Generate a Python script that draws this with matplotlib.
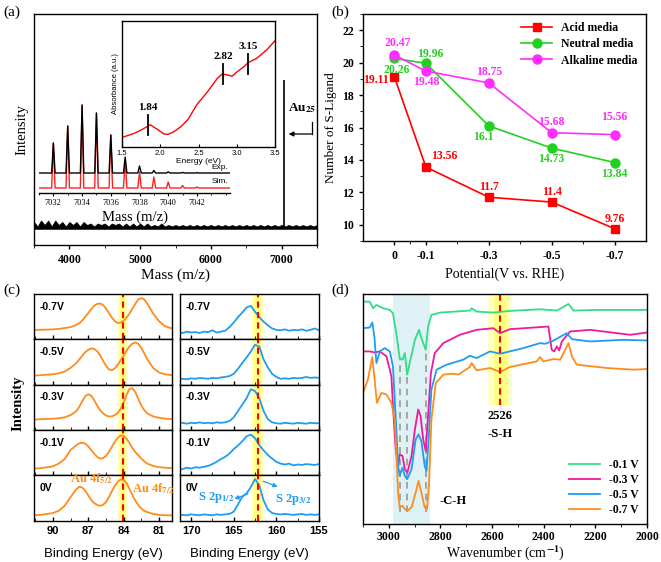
import numpy as np
import matplotlib.pyplot as plt
from matplotlib.ticker import MultipleLocator, FixedLocator

SERIF = "Liberation Serif"
SANS = "Liberation Sans"
plt.rcParams["font.family"] = SERIF
plt.rcParams["font.weight"] = "bold"
plt.rcParams["axes.linewidth"] = 1.0
plt.rcParams["mathtext.fontset"] = "stix"

# ---------------- (a) mass spectrum ----------------
ms_mass = [3500 + 50 * i for i in range(81)]
ms_noise = [4, 1, 5, 2, 5, 1, 5, 2, 4, 1, 4,
            2, 4, 1, 4, 2, 3, 1, 3, 2, 3, 1, 3, 2, 3, 1, 3, 1, 3, 1, 3,
            1, 3, 1, 2, 1, 3, 1, 2, 1, 2, 1, 2, 1, 2, 1, 2, 1, 2, 1, 2,
            1, 2, 1, 2, 1, 2, 1, 2, 1, 2, 1, 2, 1, 2, 1, 2, 1, 2, 1, 2,
            1, 2, 1, 2, 1, 2, 1, 2, 1, 2]
au25_mass = 7030
au25_height = 100

iso_mass = [7032, 7033, 7034, 7035, 7036, 7037, 7038, 7039, 7040, 7041, 7042]
iso_exp = [30, 47, 68, 60, 38, 16, 7, 2.5, 1.2, 0.6, 0.3]
iso_sim = [45, 62, 83, 75, 53, 28, 16, 11, 6, 2.5, 1]

uv_energy = [1.5, 1.66, 1.75, 1.87, 1.94, 2.05, 2.10, 2.18, 2.27, 2.36, 2.48,
             2.61, 2.74, 2.81, 2.87, 2.94, 3.0, 3.09, 3.15, 3.26, 3.39, 3.5]
uv_abs = [0.076, 0.108, 0.135, 0.176, 0.149, 0.103, 0.100, 0.122, 0.162, 0.216,
          0.338, 0.432, 0.540, 0.580, 0.573, 0.562, 0.595, 0.635, 0.670, 0.703,
          0.770, 0.843]
uv_marks = [1.84, 2.82, 3.15]
uv_mark_level = [0.175, 0.58, 0.66]

# ---------------- (b) S-ligand count ----------------
potential = [0, -0.1, -0.3, -0.5, -0.7]
potential_labels = ["0", "-0.1", "-0.3", "-0.5", "-0.7"]
acid = [19.11, 13.56, 11.7, 11.4, 9.76]
neutral = [20.26, 19.96, 16.1, 14.73, 13.84]
alkaline = [20.47, 19.48, 18.75, 15.68, 15.56]

# ---------------- (c) XPS ----------------
xps_labels = ["-0.7V", "-0.5V", "-0.3V", "-0.1V", "0V"]
au_be = [91.6, 91.0, 90.0, 89.5, 89.0, 88.5, 88.0, 87.75, 87.5, 87.25, 87.0,
         86.75, 86.5, 86.25, 86.0, 85.75, 85.5, 85.25, 85.0, 84.75, 84.5,
         84.25, 84.0, 83.75, 83.5, 83.25, 83.0, 82.75, 82.5, 82.25, 82.0,
         81.5, 81.0, 80.5, 79.9]
au_m07 = [0.21, 0.21, 0.22, 0.23, 0.25, 0.27, 0.32, 0.36, 0.42, 0.50, 0.58,
          0.67, 0.74, 0.78, 0.79, 0.76, 0.68, 0.58, 0.48, 0.40, 0.36,
          0.37, 0.41, 0.48, 0.57, 0.68, 0.79, 0.88, 0.91, 0.88, 0.79,
          0.57, 0.40, 0.29, 0.24]
au_m05 = [0.20, 0.21, 0.23, 0.25, 0.29, 0.37, 0.48, 0.56, 0.64, 0.72, 0.77,
          0.80, 0.79, 0.74, 0.65, 0.53, 0.42, 0.34, 0.32, 0.36, 0.44,
          0.54, 0.64, 0.75, 0.85, 0.91, 0.93, 0.90, 0.81, 0.69, 0.56,
          0.37, 0.27, 0.23, 0.21]
au_m03 = [0.23, 0.24, 0.25, 0.26, 0.28, 0.33, 0.42, 0.52, 0.64, 0.75, 0.79,
          0.76, 0.66, 0.54, 0.44, 0.37, 0.32, 0.30, 0.30, 0.33, 0.38,
          0.47, 0.60, 0.78, 0.91, 0.92, 0.83, 0.68, 0.54, 0.44, 0.37,
          0.30, 0.27, 0.25, 0.24]
au_m01 = [0.15, 0.16, 0.20, 0.26, 0.36, 0.56, 0.67, 0.71, 0.72, 0.70, 0.64,
          0.56, 0.48, 0.41, 0.37, 0.38, 0.43, 0.52, 0.63, 0.74, 0.83,
          0.88, 0.87, 0.81, 0.71, 0.60, 0.51, 0.44, 0.37, 0.31, 0.26,
          0.21, 0.18, 0.17, 0.16]
au_0 = [0.12, 0.13, 0.17, 0.22, 0.33, 0.52, 0.70, 0.75, 0.73, 0.66, 0.56,
        0.46, 0.39, 0.35, 0.33, 0.35, 0.41, 0.52, 0.65, 0.77, 0.86,
        0.91, 0.90, 0.83, 0.70, 0.56, 0.44, 0.34, 0.27, 0.22, 0.19,
        0.15, 0.13, 0.12, 0.12]

s_be = [171.5, 171.0, 170.5, 170.0, 169.5, 169.0, 168.5, 168.0, 167.5, 167.0,
        166.5, 166.0, 165.5, 165.0, 164.5, 164.0, 163.5, 163.0, 162.5, 162.0,
        161.5, 161.0, 160.5, 160.0, 159.5, 159.0, 158.5, 158.0, 157.5, 157.0,
        156.5, 156.0, 155.5, 155.0]
s_m07 = [0.15, 0.14, 0.17, 0.15, 0.16, 0.14, 0.17, 0.16, 0.20, 0.15,
         0.17, 0.19, 0.27, 0.37, 0.49, 0.59, 0.70, 0.74, 0.61, 0.49,
         0.39, 0.31, 0.24, 0.21, 0.20, 0.22, 0.19, 0.21, 0.20, 0.22,
         0.19, 0.21, 0.24, 0.20]
s_m05 = [0.12, 0.13, 0.12, 0.14, 0.13, 0.15, 0.14, 0.13, 0.15, 0.14,
         0.16, 0.17, 0.19, 0.24, 0.35, 0.48, 0.60, 0.73, 0.88, 0.84,
         0.56, 0.38, 0.24, 0.17, 0.13, 0.14, 0.13, 0.15, 0.14, 0.15,
         0.17, 0.15, 0.16, 0.15]
s_m03 = [0.15, 0.16, 0.14, 0.16, 0.15, 0.17, 0.15, 0.16, 0.15, 0.17,
         0.16, 0.17, 0.20, 0.28, 0.42, 0.56, 0.70, 0.90, 0.86, 0.70,
         0.42, 0.24, 0.17, 0.15, 0.14, 0.16, 0.15, 0.14, 0.16, 0.15,
         0.14, 0.16, 0.15, 0.15]
s_m01 = [0.13, 0.14, 0.17, 0.15, 0.18, 0.17, 0.19, 0.21, 0.25, 0.30,
         0.36, 0.41, 0.48, 0.58, 0.66, 0.75, 0.86, 0.90, 0.82, 0.67,
         0.55, 0.45, 0.37, 0.30, 0.26, 0.24, 0.26, 0.22, 0.24, 0.23,
         0.25, 0.24, 0.23, 0.25]
s_0 = [0.12, 0.13, 0.12, 0.14, 0.13, 0.12, 0.14, 0.13, 0.12, 0.14,
       0.13, 0.14, 0.15, 0.20, 0.36, 0.53, 0.60, 0.74, 0.92, 0.78,
       0.45, 0.25, 0.17, 0.15, 0.14, 0.15, 0.14, 0.13, 0.14, 0.15,
       0.13, 0.14, 0.13, 0.14]

# ---------------- (d) FTIR ----------------
ir_wn_01 = [3100, 3074, 3061, 3048, 3022, 2996, 2984, 2971, 2958, 2947, 2938,
            2929, 2919, 2899, 2883, 2874, 2857, 2848, 2835, 2802, 2686, 2679,
            2660, 2595, 2531, 2414, 2349, 2304, 2285, 2194, 2000]
ir_t_01 = [67.0, 67.0, 65.0, 66.0, 65.0, 64.5, 63.5, 57.5, 50.0, 49.5, 51.5,
           45.0, 48.5, 55.5, 58.5, 56.0, 52.5, 59.5, 63.0, 63.7, 64.3, 65.0,
           64.0, 63.7, 64.2, 64.7, 64.3, 66.3, 64.3, 64.5, 64.5]
ir_wn_03 = [3100, 3074, 3055, 3035, 3009, 2990, 2984, 2973, 2964, 2958, 2947,
            2938, 2928, 2912, 2899, 2886, 2877, 2867, 2857, 2848, 2837, 2822,
            2789, 2725, 2660, 2595, 2569, 2531, 2382, 2369, 2359, 2349, 2340,
            2330, 2298, 2220, 2065, 2000]
ir_t_03 = [52.0, 52.0, 51.7, 52.0, 50.5, 44.5, 35.5, 22.5, 17.5, 21.0, 20.5,
           16.5, 15.5, 20.5, 28.5, 34.5, 32.5, 25.5, 22.0, 32.5, 45.5, 51.5,
           54.5, 57.0, 58.5, 59.0, 57.5, 58.7, 59.5, 52.5, 52.0, 53.5, 52.3,
           55.0, 58.0, 58.5, 57.0, 57.7]
ir_wn_05 = [3100, 3074, 3064, 3056, 3048, 3035, 3016, 2996, 2984, 2973, 2964,
            2958, 2947, 2938, 2929, 2912, 2896, 2885, 2874, 2861, 2854, 2845,
            2835, 2815, 2776, 2712, 2686, 2660, 2608, 2569, 2479, 2414, 2395,
            2369, 2311, 2291, 2220, 2091, 2000]
ir_t_05 = [59.0, 59.2, 60.7, 56.5, 48.5, 52.0, 53.0, 52.0, 47.5, 31.5, 17.5,
           14.5, 17.0, 14.5, 13.5, 16.5, 25.5, 27.0, 25.0, 17.5, 16.0, 26.5,
           40.5, 46.5, 48.0, 49.5, 50.7, 50.0, 52.0, 51.3, 53.0, 54.5, 54.3,
           55.0, 57.5, 55.7, 55.0, 55.5, 55.3]
ir_wn_07 = [3100, 3081, 3064, 3055, 3046, 3029, 3009, 2990, 2977, 2971, 2964,
            2958, 2947, 2938, 2929, 2912, 2896, 2885, 2874, 2861, 2852, 2844,
            2835, 2818, 2789, 2751, 2731, 2686, 2679, 2660, 2608, 2569, 2531,
            2427, 2414, 2401, 2362, 2336, 2304, 2291, 2272, 2155, 2052, 2000]
ir_t_07 = [39.5, 43.5, 50.3, 43.5, 36.5, 39.5, 39.0, 36.5, 31.5, 21.5, 9.5,
           5.0, 5.5, 4.5, 4.0, 5.0, 9.5, 13.0, 9.5, 5.0, 4.5, 12.5,
           31.5, 42.5, 45.0, 45.3, 45.0, 47.3, 48.5, 46.3, 47.0, 45.8, 47.3,
           49.0, 50.3, 49.0, 49.7, 49.5, 54.5, 50.5, 48.0, 47.0, 46.5, 46.7]
ir_ch_bands = [2958, 2929, 2857]
ir_ch_tops = [50.0, 45.0, 52.5]
ir_sh = 2569

RED, GREEN, MAGENTA = "#ff0000", "#22d022", "#ff2bff"
ORANGE, BLUE = "#ff8c1a", "#1e9df2"
IR_COLORS = ["#33dd88", "#f0189b", "#1e9df2", "#ff8c1a"]

W, H = 661, 562
fig = plt.figure(figsize=(W / 100, H / 100), dpi=100)


def box(x0, y0, x1, y1):
    return [x0 / W, 1 - y1 / H, (x1 - x0) / W, (y1 - y0) / H]


# ===== panel (a) =====
ax = fig.add_axes(box(34, 14, 317, 245))
ax.fill_between(ms_mass, 0, ms_noise, color="k", lw=0.6)
ax.axhline(0, color="k", lw=1.8)
ax.vlines(au25_mass, 0, au25_height, color="k", lw=1.2)
ax.set_xlim(3500, 7500)
ax.set_ylim(-11.5, 144.6)
ax.set_yticks([])
ax.xaxis.set_minor_locator(MultipleLocator(500))
ax.set_xticks([4000, 5000, 6000, 7000])
ax.tick_params(axis="x", labelsize=8.5, length=3, width=1)
ax.tick_params(axis="x", which="minor", length=2)
ax.set_xlabel("Mass (m/z)", fontsize=11, labelpad=2)
ax.set_ylabel("Intensity", fontsize=10.5, labelpad=4)
ax.text(7289, 81, r"Au$_{\mathbf{25}}$", fontsize=9.5, ha="center",
        va="center")
ax.plot([7423, 7423], [71.6, 63.5], color="k", lw=0.9)
ax.annotate("", xy=(7099, 63.5), xytext=(7423, 63.5),
            arrowprops=dict(arrowstyle="-|>", color="k", lw=0.9,
                            mutation_scale=7, shrinkA=0, shrinkB=0))

# isotope pattern inset
ai = fig.add_axes(box(39, 100, 230, 193))
ai.patch.set_alpha(0)
for s in ("top", "right", "left"):
    ai.spines[s].set_visible(False)
hw = 0.12
for heights, base, col in ((iso_sim, 5, "#ff2020"), (iso_exp, 20, "k")):
    xs, ys = [7031.0], [base]
    for m, h in zip(iso_mass, heights):
        xs += [m - hw, m, m + hw]
        ys += [base, base + h, base]
    xs.append(7044.3)
    ys.append(base)
    ai.plot(xs, ys, color=col, lw=1.0)
ai.set_xlim(7031.0, 7044.3)
ai.set_ylim(0, 93)
ai.set_yticks([])
ai.xaxis.set_minor_locator(MultipleLocator(1))
ai.set_xticks([7032, 7034, 7036, 7038, 7040, 7042])
ai.tick_params(axis="x", labelsize=6, length=2.5, pad=2)
ai.tick_params(axis="x", which="minor", length=1.5)
for t in ai.get_xticklabels():
    t.set_fontweight("normal")
ai.set_xlabel("Mass (m/z)", fontsize=10.5, labelpad=2)
ai.text(7044.2, 22, "Exp.", fontsize=6, family=SANS, weight="normal",
        ha="right", va="bottom")
ai.text(7044.2, 8, "Sim.", fontsize=6, family=SANS, weight="normal",
        ha="right", va="bottom")

# UV-vis inset
au = fig.add_axes(box(122, 21, 275, 147))
au.plot(uv_energy, uv_abs, color="red", lw=1.0)
for e, lv in zip(uv_marks, uv_mark_level):
    au.plot([e, e], [lv - 0.08, lv + 0.08], color="k", lw=1.3)
    au.text(e, lv + 0.1, f"{e:.2f}", fontsize=8, ha="center", va="bottom")
au.set_xlim(1.5, 3.5)
au.set_ylim(0, 1)
au.set_yticks([])
au.set_xticks([1.5, 2.0, 2.5, 3.0, 3.5])
au.tick_params(axis="x", labelsize=5.5, length=2, direction="in", pad=2)
for t in au.get_xticklabels():
    t.set_family(SANS)
    t.set_fontweight("normal")
au.set_xlabel("Energy (eV)", fontsize=6, family=SANS, labelpad=1)
au.set_ylabel("Absorbance (a.u.)", fontsize=5.5, family=SANS,
              weight="normal", labelpad=2)

# ===== panel (b) =====
bx = fig.add_axes(box(363, 14, 646, 241))
bx.plot(potential, acid, "-s", color=RED, ms=6, lw=1.2, label="Acid media")
bx.plot(potential, neutral, "-o", color=GREEN, ms=6.5, lw=1.2,
        label="Neutral media")
bx.plot(potential, alkaline, "-o", color=MAGENTA, ms=6.5, lw=1.2,
        label="Alkaline media")
label_offsets = {
    "acid": [(-13, -2), (13, 8), (0, 7), (0, 7), (0, 7)],
    "neutral": [(2, -8), (3, 7), (-4, -8), (0, -8), (0, -8)],
    "alkaline": [(2, 9), (0, -8), (0, 8), (0, 8), (0, 13)],
}
for key, vals, col in (("acid", acid, RED), ("neutral", neutral, GREEN),
                       ("alkaline", alkaline, MAGENTA)):
    for p, v, off in zip(potential, vals, label_offsets[key]):
        bx.annotate(f"{v:g}", (p, v), xytext=off, textcoords="offset points",
                    ha="center", va="center", color=col, fontsize=8.5,
                    zorder=5)
bx.set_xlim(0.1, -0.8)
bx.set_ylim(9, 23)
bx.set_xticks(potential)
bx.set_xticklabels(potential_labels)
bx.xaxis.set_minor_locator(FixedLocator([-0.05, -0.2, -0.4, -0.6]))
bx.yaxis.set_minor_locator(MultipleLocator(1))
bx.set_yticks(range(10, 23, 2))
bx.tick_params(labelsize=8.5, length=3, width=1)
bx.tick_params(which="minor", length=2)
bx.set_xlabel("Potential(V vs. RHE)", fontsize=10, labelpad=4)
bx.set_ylabel("Number of S-Ligand", fontsize=9.5, labelpad=4)
bx.legend(loc="upper right", fontsize=8.5, frameon=False, handlelength=2.6,
          borderaxespad=0.3, labelspacing=0.35)

# ===== panel (c) =====
row_top, row_h = 294, 45.35
au_rows = [au_m07, au_m05, au_m03, au_m01, au_0]
s_rows = [s_m07, s_m05, s_m03, s_m01, s_0]
for i, lab in enumerate(xps_labels):
    y0 = row_top + i * row_h
    for (x0, x1, be, rows, col, lim, line, maj, mnr) in (
            (34, 172, au_be, au_rows, ORANGE, (91.6, 79.9), 84.05, 3, 1.5),
            (180, 319, s_be, s_rows, BLUE, (171.3, 155), 162.2, 5, 2.5)):
        cx = fig.add_axes(box(x0, y0, x1, y0 + row_h))
        cx.axvspan(line - 0.4 * maj / 3, line + 0.4 * maj / 3,
                   color="#ffff66", alpha=0.45, lw=0)
        cx.axvspan(line - 0.22 * maj / 3, line + 0.22 * maj / 3,
                   color="#ffff66", alpha=0.6, lw=0)
        cx.plot(be, rows[i], color=col, lw=1.3)
        cx.axvline(line, color="red", lw=1.5, dashes=(3, 2))
        cx.set_xlim(*lim)
        cx.set_ylim(0, 1)
        cx.set_yticks([])
        cx.xaxis.set_major_locator(MultipleLocator(maj))
        cx.xaxis.set_minor_locator(MultipleLocator(mnr))
        cx.tick_params(axis="x", direction="in", length=3, width=1,
                       labelsize=8)
        cx.tick_params(axis="x", which="minor", direction="in", length=2)
        if i < 4:
            cx.tick_params(axis="x", labelbottom=False)
        else:
            for t in cx.get_xticklabels():
                t.set_family(SANS)
            cx.set_xlabel("Binding Energy (eV)", family=SANS, fontsize=9.5,
                          labelpad=9)
        cx.text(0.04, 0.72, lab, transform=cx.transAxes, family=SANS,
                fontsize=7.5, ha="left", va="center")
        if i == 4 and col == ORANGE:
            cx.text(86.73, 0.93, r"Au 4f$_{\mathbf{5/2}}$", color=ORANGE,
                    fontsize=9, ha="center", va="center", clip_on=False)
            cx.text(81.47, 0.71, r"Au 4f$_{\mathbf{7/2}}$", color=ORANGE,
                    fontsize=9, ha="center", va="center", clip_on=False)
        if i == 4 and col == BLUE:
            cx.text(167.1, 0.51, r"S 2p$_{\mathbf{1/2}}$", color=BLUE,
                    fontsize=9, ha="center", va="center")
            cx.text(158.05, 0.46, r"S 2p$_{\mathbf{3/2}}$", color=BLUE,
                    fontsize=9, ha="center", va="center")
            cx.annotate("", xy=(164.93, 0.48), xytext=(163.36, 0.59),
                        arrowprops=dict(arrowstyle="-|>", color=BLUE, lw=0.9,
                                        mutation_scale=6, shrinkA=0,
                                        shrinkB=0))
            cx.annotate("", xy=(159.85, 0.75), xytext=(161.53, 0.87),
                        arrowprops=dict(arrowstyle="-|>", color=BLUE, lw=0.9,
                                        mutation_scale=6, shrinkA=0,
                                        shrinkB=0))
fig.text(18 / W, 1 - 403 / H, "Intensity", rotation=90, fontsize=10.5,
         ha="center", va="center")

# ===== panel (d) =====
dx = fig.add_axes(box(363, 294, 647, 524))
dx.axvspan(2984, 2841, color="#d6eef3", alpha=0.8, lw=0)
dx.axvspan(ir_sh + 45, ir_sh - 45, ymin=36 / 69.3, color="#ffff66",
           alpha=0.35, lw=0)
dx.axvspan(ir_sh + 25, ir_sh - 25, ymin=36 / 69.3, color="#ffff44",
           alpha=0.55, lw=0)
dx.vlines(ir_ch_bands, 3.5, ir_ch_tops, color="#999999", lw=1.2,
          linestyles=(0, (4, 3)))
for wn, t, col, lab in ((ir_wn_01, ir_t_01, IR_COLORS[0], "-0.1 V"),
                        (ir_wn_03, ir_t_03, IR_COLORS[1], "-0.3 V"),
                        (ir_wn_05, ir_t_05, IR_COLORS[2], "-0.5 V"),
                        (ir_wn_07, ir_t_07, IR_COLORS[3], "-0.7 V")):
    dx.plot(wn, t, color=col, lw=1.3, label=lab)
dx.plot([ir_sh, ir_sh], [36, 69.3], color="red", lw=1.5, dashes=(3, 2))
dx.text(ir_sh, 32.5, "2526", fontsize=9, ha="center", va="center")
dx.text(ir_sh, 27.2, "-S-H", fontsize=9, ha="center", va="center")
dx.text(2751, 7.0, "-C-H", fontsize=9, ha="center", va="center")
dx.set_xlim(3100, 2000)
dx.set_ylim(0, 69.3)
dx.set_yticks([])
dx.xaxis.set_major_locator(MultipleLocator(200))
dx.xaxis.set_minor_locator(MultipleLocator(100))
dx.tick_params(axis="x", labelsize=8.5, length=3, width=1, pad=2)
dx.tick_params(axis="x", which="minor", length=2)
dx.set_xlabel(r"Wavenumber (cm$^{\mathbf{-1}}$)", fontsize=10,
              labelpad=0)
dx.legend(loc="lower right", fontsize=8.5, frameon=False, handlelength=2.6,
          borderaxespad=0.3, labelspacing=0.25)

# panel letters
for x, y, s in ((3, 12, "(a)"), (331, 12, "(b)"), (3, 290, "(c)"),
                (331, 290, "(d)")):
    fig.text(x / W, 1 - y / H, s, fontsize=11, weight="normal",
             ha="left", va="center")

fig.savefig("out.png", dpi=100)
